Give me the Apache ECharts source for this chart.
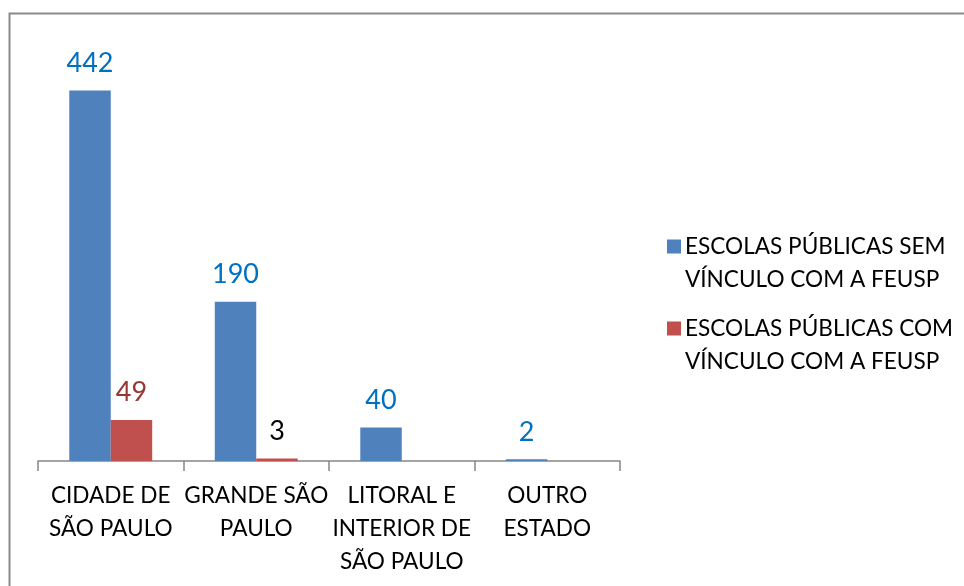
<!DOCTYPE html>
<html>
<head>
<meta charset="utf-8">
<script src="https://cdn.jsdelivr.net/npm/echarts@6/dist/echarts.min.js"></script>
<style>
  html, body { margin: 0; padding: 0; background: #fff; }
  #chart { width: 964px; height: 586px; }
</style>
</head>
<body>
<div id="chart"></div>
<script>
// categorias (eixo x)
const categories = [
  "CIDADE DE\nSÃO PAULO",
  "GRANDE SÃO\nPAULO",
  "LITORAL E\nINTERIOR DE\nSÃO PAULO",
  "OUTRO\nESTADO",
];
const seriesNames = [
  "ESCOLAS PÚBLICAS SEM\nVÍNCULO COM A FEUSP",
  "ESCOLAS PÚBLICAS COM\nVÍNCULO COM A FEUSP",
];
const semVinculo = [442, 190, 40, 2];
const comVinculo = [49, 3, null, null];
// cor dos rótulos de dados (o "3" aparece em preto)
const semLabelColors = ["#0070C0", "#0070C0", "#0070C0", "#0070C0"];
const comLabelColors = ["#953735", "#000000", "#953735", "#953735"];

const FONT = "Lato";

function toData(values, colors) {
  return values.map((v, i) => ({ value: v, label: { color: colors[i] } }));
}

// quadrado da legenda alinhado com a primeira linha do texto
const legendIcon = "path://M0,9.5H14V23.5H0Z M0,0L0.01,0 M0,66L0.01,66";

const chart = echarts.init(document.getElementById("chart"), null, { renderer: "canvas" });
chart.setOption({
  backgroundColor: "#fff",
  animation: false,
  textStyle: { fontFamily: FONT },
  graphic: [
    {
      type: "rect",
      shape: { x: 9.5, y: 13.5, width: 1000, height: 1000 },
      style: { fill: "none", stroke: "#8a8a8a", lineWidth: 2 },
      silent: true,
    },
  ],
  legend: {
    orient: "vertical",
    left: 662,
    top: 225,
    itemGap: 16,
    itemWidth: 14,
    itemHeight: 66,
    icon: legendIcon,
    data: seriesNames,
    textStyle: {
      fontFamily: FONT,
      fontSize: 22.6,
      lineHeight: 33,
      color: "#000",
      padding: [0, 0, 0, -1],
    },
  },
  grid: { left: 38, right: 344, top: 42, bottom: 125, containLabel: false },
  xAxis: {
    type: "category",
    data: categories,
    axisLine: { lineStyle: { color: "#868686", width: 1.5 } },
    axisTick: { show: true, alignWithLabel: false, length: 10, lineStyle: { color: "#868686", width: 1.5 } },
    axisLabel: {
      interval: 0,
      margin: 18,
      fontFamily: FONT,
      fontSize: 22.6,
      lineHeight: 33,
      color: "#000",
    },
  },
  yAxis: {
    type: "value",
    min: 0,
    max: 500,
    show: false,
    splitLine: { show: false },
  },
  series: [
    {
      name: seriesNames[0],
      type: "bar",
      data: toData(semVinculo, semLabelColors),
      itemStyle: { color: "#4F81BD" },
      barGap: "0%",
      barCategoryGap: "43%",
      label: {
        show: true,
        position: "top",
        distance: 14,
        fontFamily: FONT,
        fontSize: 27,
      },
    },
    {
      name: seriesNames[1],
      type: "bar",
      data: toData(comVinculo, comLabelColors),
      itemStyle: { color: "#C0504D" },
      barGap: "0%",
      barCategoryGap: "43%",
      label: {
        show: true,
        position: "top",
        distance: 14,
        fontFamily: FONT,
        fontSize: 27,
      },
    },
  ],
});
</script>
</body>
</html>
